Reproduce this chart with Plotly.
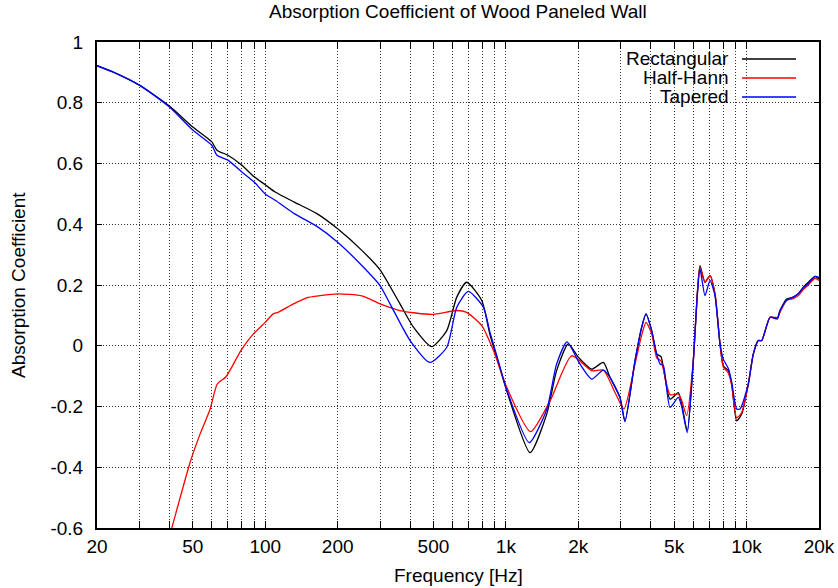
import plotly.graph_objects as go

# ---------------- data ----------------
freq_rect = [20, 24, 30, 40, 50, 60, 63, 70, 80, 90, 100, 110, 132, 164, 200, 252, 300, 363, 413, 492,
             568, 625, 687, 794, 859, 930, 1008, 1260, 1478, 1625, 1817, 2000, 2273, 2540, 2708,
             2978, 3125, 3439, 3667, 3821, 4035, 4233, 4411, 4509, 4808, 5205, 5377, 5672, 6008, 6242,
             6405, 6719, 7050, 7393, 7757, 8006, 8400, 8675, 9100, 9548, 10170, 10670, 11195, 11563, 12524,
             13425, 13772, 14687, 15640, 16406, 17211, 18054, 19256, 20000]
rectangular = [0.922, 0.897, 0.858, 0.789, 0.72, 0.671, 0.644, 0.627, 0.594, 0.556, 0.53, 0.506, 0.473, 0.435, 0.385,
               0.314, 0.25, 0.138, 0.061, -0.003, 0.05, 0.16, 0.209, 0.149, 0.036, -0.055, -0.148, -0.352, -0.225, -0.082,
               0.006, -0.038, -0.077, -0.055, -0.104, -0.17, -0.247, -0.05, 0.061, 0.105, 0.05, -0.027, -0.036, -0.071, -0.176,
               -0.154, -0.192, -0.28, -0.05, 0.171, 0.264, 0.209, 0.231, 0.171, 0.006, -0.066, -0.082, -0.126, -0.247, -0.225,
               -0.126, -0.027, 0.017, 0.017, 0.094, 0.092, 0.116, 0.154, 0.16, 0.171, 0.193, 0.209, 0.228, 0.22]

freq_hann = [38, 40.9, 48.7, 53.6, 59, 63.2, 68.7, 79.9, 89.3, 100, 108, 113, 131, 148.6, 169, 200, 252, 300, 363, 492,
             625, 687, 794, 888, 1008, 1265, 1527, 1876, 2273, 2540, 2841, 3095, 3439, 3667, 3821,
             4035, 4233, 4411, 4808, 5205, 5377, 5640, 6008, 6242, 6405, 6719, 7050, 7393, 7757, 8006,
             8400, 8675, 9100, 9548, 10170, 10670, 11195, 11563, 12524, 13425, 13772, 14687, 15640, 16406, 17211,
             18054, 19256, 20000]
half_hann = [-0.69, -0.6, -0.385, -0.291, -0.209, -0.126, -0.102, -0.011, 0.039, 0.077, 0.105, 0.11, 0.138, 0.158, 0.165,
             0.171, 0.164, 0.138, 0.116, 0.103, 0.116, 0.11, 0.066, -0.016, -0.137, -0.283, -0.181, -0.033, -0.082, -0.08,
             -0.154, -0.208, -0.06, 0.035, 0.077, 0.04, -0.04, -0.05, -0.161, -0.159, -0.18, -0.23, -0.05, 0.17, 0.259,
             0.209, 0.231, 0.171, 0.006, -0.07, -0.09, -0.13, -0.237, -0.22, -0.126, -0.027, 0.017, 0.017, 0.094, 0.09,
             0.11, 0.15, 0.155, 0.165, 0.185, 0.2, 0.222, 0.215]

freq_tap = [20, 24, 30, 40, 50, 60, 63, 70, 80, 90, 100, 110, 132, 164, 200, 252, 300, 330, 400, 484,
            568, 625, 698, 806, 859, 930, 1008, 1250, 1478, 1625, 1795, 2030, 2273, 2540, 2708,
            2978, 3125, 3439, 3667, 3821, 4035, 4233, 4370, 4509, 4808, 5205, 5377, 5672, 6008, 6242,
            6405, 6719, 7050, 7393, 7757, 8006, 8400, 8675, 9100, 9400, 10170, 10670, 11195, 11563, 12524,
            13425, 13772, 14687, 15640, 16406, 17211, 18054, 19256, 20000]
tapered = [0.922, 0.897, 0.858, 0.786, 0.71, 0.66, 0.627, 0.611, 0.572, 0.539, 0.50, 0.479, 0.435, 0.393, 0.341,
           0.264, 0.198, 0.138, 0.017, -0.055, -0.005, 0.127, 0.179, 0.127, 0.044, -0.05, -0.145, -0.319, -0.21, -0.06,
           0.013, -0.06, -0.11, -0.08, -0.104, -0.17, -0.25, -0.05, 0.061, 0.105, 0.05, -0.027, -0.06, -0.065, -0.203,
           -0.17, -0.2, -0.286, -0.05, 0.165, 0.253, 0.165, 0.215, 0.165, 0.006, -0.044, -0.075, -0.12, -0.208, -0.208,
           -0.126, -0.027, 0.017, 0.017, 0.094, 0.088, 0.116, 0.15, 0.16, 0.171, 0.19, 0.205, 0.228, 0.225]

series_names = ["Rectangular", "Half-Hann", "Tapered"]
series_colors = ["#000000", "#ff0000", "#0000ff"]

x_grid_vals = ([20, 30, 40, 50, 60, 70, 80, 90] + [100 * k for k in range(1, 10)]
               + [1000 * k for k in range(1, 10)] + [10000, 20000])
x_label_map = {20: "20", 50: "50", 100: "100", 200: "200", 500: "500", 1000: "1k",
               2000: "2k", 5000: "5k", 10000: "10k", 20000: "20k"}
x_tick_text = [x_label_map.get(v, "") for v in x_grid_vals]
y_tick_vals = [-0.6, -0.4, -0.2, 0, 0.2, 0.4, 0.6, 0.8, 1]
y_tick_text = ["-0.6", "-0.4", "-0.2", "0", "0.2", "0.4", "0.6", "0.8", "1"]

# ---------------- figure ----------------
W, H = 838, 588
ML, MR, MT, MB = 97, 19, 42, 60
PW, PH = W - ML - MR, H - MT - MB


def px(xp):
    return (xp - ML) / PW


def py(yp):
    return (H - MB - yp) / PH


FONT = "Liberation Sans, Arial, sans-serif"
FS = 19

fig = go.Figure()
for fx, fy, name, col in [(freq_rect, rectangular, series_names[0], series_colors[0]),
                          (freq_hann, half_hann, series_names[1], series_colors[1]),
                          (freq_tap, tapered, series_names[2], series_colors[2])]:
    fig.add_trace(go.Scatter(x=fx, y=fy, mode="lines", name=name,
                             line=dict(color=col, width=1.3, shape="spline", smoothing=0.6)))

fig.update_layout(
    width=W, height=H,
    margin=dict(l=ML, r=MR, t=MT, b=MB, pad=0, autoexpand=False),
    paper_bgcolor="white", plot_bgcolor="white",
    showlegend=False,
    font=dict(family=FONT, size=FS, color="black"),
)

grid_dash = "1px,2px"
fig.update_xaxes(
    type="log", range=[1.30103, 4.30103], automargin=False,
    tickmode="array", tickvals=x_grid_vals, ticktext=x_tick_text,
    ticks="inside", ticklen=7, tickwidth=1, tickcolor="black",
    showline=True, linecolor="black", linewidth=2, mirror="allticks",
    showgrid=True, gridcolor="#333333", gridwidth=1, griddash=grid_dash,
    zeroline=False, tickfont=dict(family=FONT, size=FS, color="black"),
    ticklabelstandoff=0,
)
fig.update_yaxes(
    range=[-0.6, 1.0], automargin=False,
    tickmode="array", tickvals=y_tick_vals, ticktext=y_tick_text,
    ticks="inside", ticklen=5, tickwidth=1, tickcolor="black",
    showline=True, linecolor="black", linewidth=2, mirror="allticks",
    showgrid=True, gridcolor="#333333", gridwidth=1, griddash=grid_dash,
    zeroline=False, tickfont=dict(family=FONT, size=FS, color="black"),
    ticklabelstandoff=8,
)

# white key box covering the grid (drawn beneath traces)
fig.add_shape(type="rect", xref="paper", yref="paper",
              x0=px(601), x1=px(808), y0=py(108), y1=py(43),
              fillcolor="white", line=dict(width=0), layer="between")

# key entries: text right-aligned, sample line to the right
key_rows = [58.5, 77.5, 96.5]
for name, col, yr in zip(series_names, series_colors, key_rows):
    fig.add_annotation(x=px(731), y=py(yr), xref="paper", yref="paper",
                       text=name, showarrow=False, xanchor="right", yanchor="middle",
                       font=dict(family=FONT, size=FS, color="black"))
    fig.add_shape(type="line", xref="paper", yref="paper",
                  x0=px(742), x1=px(796), y0=py(yr + 0.5), y1=py(yr + 0.5),
                  line=dict(color=col, width=1.3), layer="above")

# title and axis titles
fig.add_annotation(x=px(458), y=py(12), xref="paper", yref="paper",
                   text="Absorption Coefficient of Wood Paneled Wall", showarrow=False,
                   xanchor="center", yanchor="middle", font=dict(family=FONT, size=FS, color="black"))
fig.add_annotation(x=px(458), y=py(575.5), xref="paper", yref="paper",
                   text="Frequency [Hz]", showarrow=False,
                   xanchor="center", yanchor="middle", font=dict(family=FONT, size=FS, color="black"))
fig.add_annotation(x=px(18), y=py(285), xref="paper", yref="paper",
                   text="Absorption Coefficient", showarrow=False, textangle=-90,
                   xanchor="center", yanchor="middle", font=dict(family=FONT, size=FS, color="black"))

fig.write_html("out.html")
